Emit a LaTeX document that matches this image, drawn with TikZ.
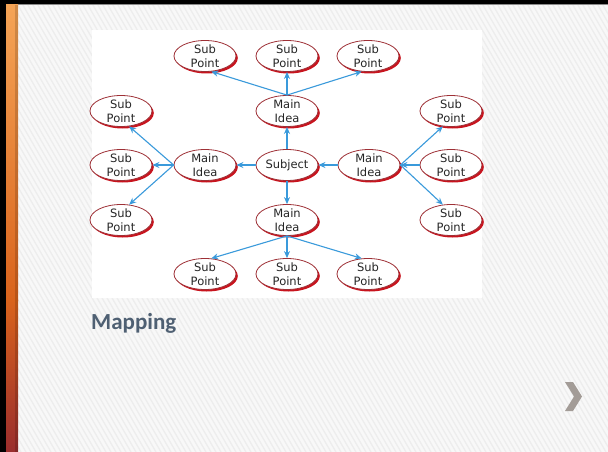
\documentclass[tikz,border=0pt]{standalone}
\usepackage{fontspec}
\setmainfont{DejaVu Sans}
\newfontfamily\titlefont{Carlito}
\usetikzlibrary{shapes.geometric,arrows.meta,shadows}

\definecolor{bgcol}{HTML}{F8F8F8}
\definecolor{hatchcol}{HTML}{EDEDED}
\definecolor{rimred}{HTML}{9E3036}
\definecolor{shadowred}{HTML}{C8141E}
\definecolor{linkblue}{HTML}{3A9ADB}
\definecolor{titlecol}{HTML}{4F6073}
\definecolor{chevcol}{HTML}{A39C97}
\definecolor{barorange}{HTML}{F5A456}
\definecolor{barmid}{HTML}{D9631C}
\definecolor{barred}{HTML}{9A2D2D}

\tikzset{
  bubble/.style={ellipse, draw=rimred, line width=0.8pt, fill=white,
    minimum width=62pt, minimum height=31pt, inner sep=0pt,
    drop shadow={shadow xshift=1.8pt, shadow yshift=-2pt,
      fill=shadowred, opacity=1}},
  caption/.style={align=center, font=\fontsize{11.5}{13.5}\selectfont,
    text=black!85, inner sep=0pt},
  link/.style={draw=linkblue, line width=1.1pt,
    -{Stealth[length=7pt,width=6pt]}},
  hatch/.style={draw=hatchcol, line width=1.3pt},
}

\newcommand{\bubblenode}[3]{%
  \node[bubble, label={[caption]center:#3}] (#1) at #2 {};}

\begin{document}
\begin{tikzpicture}[x=1pt,y=-1pt]
\useasboundingbox (0,0) rectangle (608,452);

% slide background with diagonal hatching
\fill[bgcol] (0,0) rectangle (608,452);
\begin{scope}
  \clip (0,0) rectangle (608,452);
  \foreach \i in {-270,-265,...,610}
    \draw[hatch] (\i,0) -- ++(261,452);
\end{scope}

% frame edges and accent bar
\fill[black] (0,0) rectangle (608,4);
\fill[black!45] (0,4) rectangle (608,5.5);
\fill[black] (0,0) rectangle (6,452);
\shade[top color=barorange, bottom color=barmid] (6,5) rectangle (18,300);
\shade[top color=barmid, bottom color=barred] (6,300) rectangle (18,452);
\fill[black, opacity=0.15] (15,5) rectangle (18,452);

% white panel behind the map
\fill[white] (92,30) rectangle (482,298);

% bubbles
\bubblenode{tpa}{(205,56)}{Sub\\Point}
\bubblenode{tpb}{(287,56)}{Sub\\Point}
\bubblenode{tpc}{(368,56)}{Sub\\Point}
\bubblenode{mt}{(287,111)}{Main\\Idea}
\bubblenode{lsa}{(121,111)}{Sub\\Point}
\bubblenode{lsb}{(121,165)}{Sub\\Point}
\bubblenode{lsc}{(121,220)}{Sub\\Point}
\bubblenode{ml}{(205,165)}{Main\\Idea}
\bubblenode{subj}{(287,165)}{Subject}
\bubblenode{mr}{(369,165)}{Main\\Idea}
\bubblenode{rsa}{(451,111)}{Sub\\Point}
\bubblenode{rsb}{(451,165)}{Sub\\Point}
\bubblenode{rsc}{(451,220)}{Sub\\Point}
\bubblenode{mb}{(287,220)}{Main\\Idea}
\bubblenode{bsa}{(205,274)}{Sub\\Point}
\bubblenode{bsb}{(287,274)}{Sub\\Point}
\bubblenode{bsc}{(368,274)}{Sub\\Point}

% connectors
\draw[link] (mt.north) -- (tpa.-68);
\draw[link] (mt.north) -- (tpb.south);
\draw[link] (mt.north) -- (tpc.-112);
\draw[link] (subj.north) -- (mt.south);
\draw[link] (subj.west) -- (ml.east);
\draw[link] (mr.west) -- (subj.east);
\draw[link] (subj.south) -- (mb.north);
\draw[link] (ml.west) -- (lsa.-62);
\draw[link] (ml.west) -- (lsb.east);
\draw[link] (ml.west) -- (lsc.62);
\draw[link] (mr.east) -- (rsa.-118);
\draw[link] (rsb.west) -- (mr.east);
\draw[link] (mr.east) -- (rsc.118);
\draw[link] (mb.south) -- (bsa.68);
\draw[link] (mb.south) -- (bsb.north);
\draw[link] (mb.south) -- (bsc.112);

% caption and navigation mark
\node[anchor=base west, inner sep=0pt, text=titlecol,
  font=\titlefont\bfseries\fontsize{23}{27}\selectfont] (title) at (91,329) {Mapping};
\fill[chevcol] (565,382) -- (573,382) -- (582,396.5) -- (573,411)
  -- (565,411) -- (574,396.5) -- cycle;
\end{tikzpicture}
\end{document}
